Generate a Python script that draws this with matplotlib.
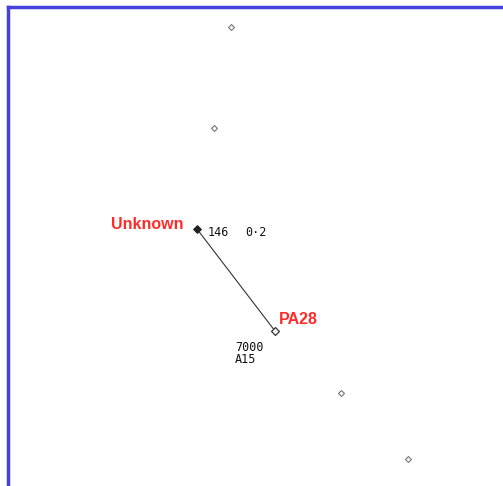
import matplotlib
matplotlib.use("Agg")
import matplotlib.pyplot as plt

# Track points (east, north) in screen units
track_x = [231, 214, 197, 275, 341, 408]
track_y = [27, 128, 229, 331, 393, 459]
aircraft = ["Unknown", "PA28"]
ac_x = [197, 275]
ac_y = [229, 331]
tag_unknown = ["146", "0\u00b72"]
tag_pa28 = ["7000", "A15"]

fig = plt.figure(figsize=(5.03, 4.86), dpi=100)
ax = fig.add_axes([8/503, 0, 495/503, 1 - 7/486])
ax.set_xlim(8, 503)
ax.set_ylim(486, 7)
ax.set_xticks([]); ax.set_yticks([])
for s in ["right", "bottom"]:
    ax.spines[s].set_visible(False)
for s in ["left", "top"]:
    ax.spines[s].set_color("#4444dd")
    ax.spines[s].set_linewidth(2.5)

# history dots (excluding aircraft)
hist = [(x, y) for x, y in zip(track_x, track_y) if (x, y) not in zip(ac_x, ac_y)]
ax.scatter([h[0] for h in hist], [h[1] for h in hist], marker="D", s=9,
           facecolors="white", edgecolors="#777777", linewidths=0.8, zorder=3)

ax.plot(ac_x, ac_y, color="#333333", lw=0.8, zorder=2)
ax.scatter([ac_x[0]], [ac_y[0]], marker="D", s=14, color="#222222", zorder=4)
ax.scatter([ac_x[1]], [ac_y[1]], marker="D", s=16, facecolors="white",
           edgecolors="#333333", linewidths=0.9, zorder=4)

ax.text(ac_x[0] - 13, ac_y[0] - 5, aircraft[0], color="#ff2a2a", fontsize=11.5,
        fontweight="bold", family="Liberation Sans", ha="right", va="center")
ax.text(ac_x[1] + 4, ac_y[1] - 12, aircraft[1], color="#ff2a2a", fontsize=11.5,
        fontweight="bold", family="Liberation Sans", ha="left", va="center")

mono = dict(family="DejaVu Sans Mono", fontsize=8.5, color="#111111", va="center")
ax.text(ac_x[0] + 11, ac_y[0] + 3, tag_unknown[0], ha="left", **mono)
ax.text(ac_x[0] + 48, ac_y[0] + 3, tag_unknown[1], ha="left", **mono)
ax.text(ac_x[1] - 40, ac_y[1] + 16, tag_pa28[0], ha="left", **mono)
ax.text(ac_x[1] - 40, ac_y[1] + 28, tag_pa28[1], ha="left", **mono)

fig.savefig("out.png", dpi=100, facecolor="white")
